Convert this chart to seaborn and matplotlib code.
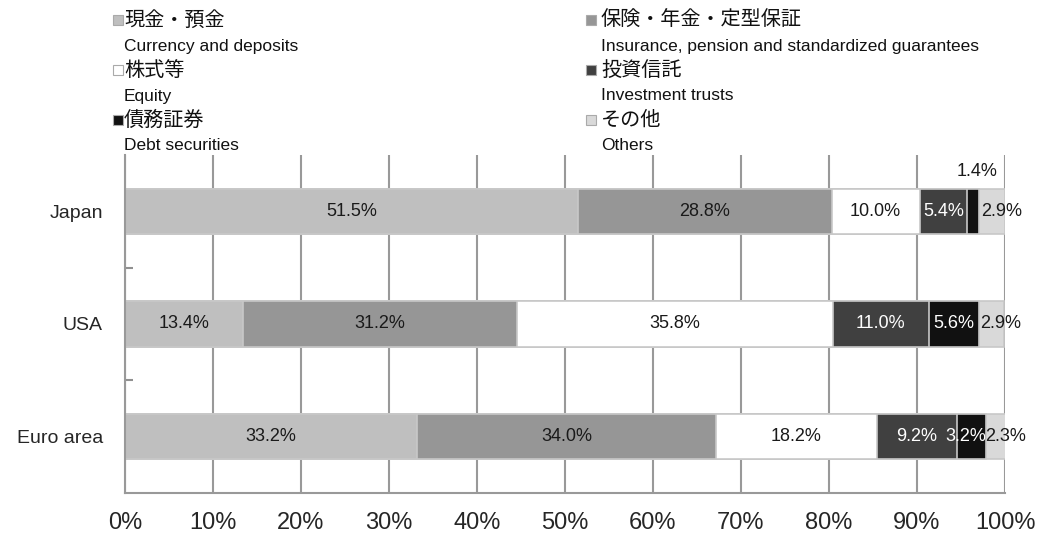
import numpy as np
import pandas as pd
import seaborn as sns
import matplotlib.pyplot as plt

# 데이터
regions = ["Japan", "USA", "Euro area"]
cats_jp = ["現金・預金", "保険・年金・定型保証", "株式等", "投資信託", "債務証券", "その他"]
cats_en = ["Currency and deposits", "Insurance, pension and standardized guarantees",
           "Equity", "Investment trusts", "Debt securities", "Others"]
currency = [51.5, 13.4, 33.2]
insurance = [28.8, 31.2, 34.0]
equity = [10.0, 35.8, 18.2]
inv_trusts = [5.4, 11.0, 9.2]
debt = [1.4, 5.6, 3.2]
others = [2.9, 2.9, 2.3]

colors = ["#bfbfbf", "#969696", "#ffffff", "#404040", "#111111", "#d9d9d9"]
label_colors = ["#1a1a1a", "#1a1a1a", "#1a1a1a", "#ffffff", "#ffffff", "#1a1a1a"]

sns.set_style("white")
plt.rcParams["font.family"] = ["Liberation Sans", "Noto Sans CJK JP", "DejaVu Sans"]

series = [currency, insurance, equity, inv_trusts, debt, others]
cum = np.cumsum(np.array(series), axis=0)  # (6, 3)

fig = plt.figure(figsize=(10.54, 5.37), dpi=100)
ax = fig.add_axes([125 / 1054, 1 - 493 / 537, 880 / 1054, 338 / 537])

# 누적 막대: 큰 값부터 겹쳐 그리기
for i in range(5, -1, -1):
    d = pd.DataFrame({"region": regions, "v": cum[i]})
    sns.barplot(data=d, x="v", y="region", orient="h", color=colors[i],
                width=0.4, edgecolor="#c8c8c8", linewidth=1.2, saturation=1,
                ax=ax, order=regions, zorder=2)

# 라벨 (겹치는 것만 살짝 옮김)
for i in range(6):
    for j in range(3):
        v = series[i][j]
        x = cum[i][j] - v / 2
        y = j
        if i == 5:
            x += 1.1
        if i == 4 and regions[j] == "Euro area":
            x -= 0.7
        if i == 4 and regions[j] == "Japan":
            x += 0.4
            y = j - 0.35
            c = "#1a1a1a"
        else:
            c = label_colors[i]
        ax.text(x, y, f"{v:.1f}%", ha="center", va="center",
                fontsize=13, color=c, zorder=5)

ax.set_xlim(0, 100)
ax.set_ylim(2.5, -0.5)
ax.set_xticks(np.arange(0, 101, 10))
ax.set_xticklabels([f"{t}%" for t in range(0, 101, 10)], fontsize=17)
ax.tick_params(axis="x", length=0, pad=14)
ax.tick_params(axis="y", which="major", left=False, length=0, labelsize=14, pad=16)
ax.set_yticks([0.5, 1.5], minor=True)
ax.tick_params(axis="y", which="minor", left=True, direction="in", length=6,
               color="#909090", width=1.5)
ax.grid(axis="x", color="#999999", linewidth=1.5, zorder=0)
ax.set_axisbelow(True)
ax.set_xlabel("")
ax.set_ylabel("")
for side in ["top", "right"]:
    ax.spines[side].set_visible(False)
for side in ["left", "bottom"]:
    ax.spines[side].set_color("#999999")
    ax.spines[side].set_linewidth(1.5)

# 범례 (수동)
col_x = [113 / 1054, 586 / 1054]
text_x = [124 / 1054, 601 / 1054]
row_y = [20, 70, 120]
for k in range(6):
    ry = row_y[k // 2]
    fig.patches.append(plt.Rectangle((col_x[k % 2], 1 - (ry + 5) / 537), 10 / 1054, 10 / 537,
                                     transform=fig.transFigure, facecolor=colors[k],
                                     edgecolor="#aaaaaa", linewidth=0.8))
    fig.text(text_x[k % 2], 1 - ry / 537, cats_jp[k], fontsize=14.5, va="center",
             ha="left", color="#111111")
    fig.text(text_x[k % 2], 1 - (ry + 26) / 537, cats_en[k], fontsize=12.5, va="center",
             ha="left", color="#111111")

fig.savefig("out.png", dpi=100)
